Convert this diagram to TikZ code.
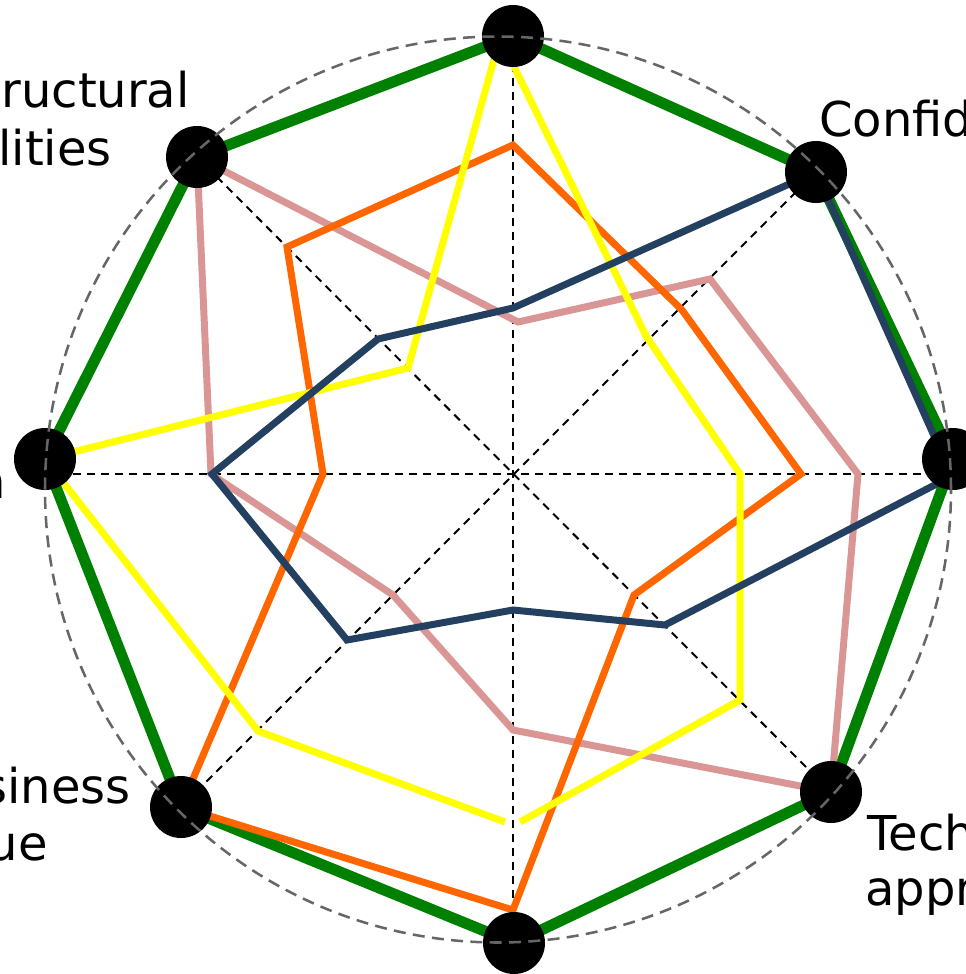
\documentclass[tikz,border=0pt]{standalone}
\usepackage{fontspec}
\setmainfont{DejaVu Sans}
\definecolor{cgreen}{RGB}{0,128,0}
\definecolor{cnavy}{RGB}{36,64,96}
\definecolor{cpink}{RGB}{217,150,148}
\definecolor{corange}{RGB}{255,102,0}
\definecolor{cyellow}{RGB}{255,255,0}
\definecolor{cring}{RGB}{102,102,102}
\begin{document}
\begin{tikzpicture}[x=0.75pt,y=-0.75pt,
  axisline/.style={black, line width=1.5pt, dash pattern=on 6pt off 4.5pt},
  ring/.style={cring, line width=1.9pt, dash pattern=on 9pt off 5.5pt},
  series/.style={line width=5.25pt, line join=miter},
  thick series/.style={line width=8.25pt, line join=miter},
  dot/.style={circle, fill=black, draw=none, minimum size=46.5pt, inner sep=0pt},
  lbl/.style={inner sep=0pt, font=\fontsize{36}{43}\selectfont}]
\useasboundingbox (0,0) rectangle (966,974);
% node positions
\coordinate (cN)  at (513,36);
\coordinate (cNE) at (816,172);
\coordinate (cE)  at (953,459);
\coordinate (cSE) at (831,792);
\coordinate (cS)  at (514,943);
\coordinate (cSW) at (181,807);
\coordinate (cW)  at (45,459);
\coordinate (cNW) at (197,157);
\coordinate (ctr) at (498,489.5);
% axes
\coordinate (aN) at (513,36);
\coordinate (aS) at (513,943);
\coordinate (aW) at (45,474);
\coordinate (aE) at (953,474);
\draw[axisline] (aN) -- (aS);
\draw[axisline] (aW) -- (aE);
\draw[axisline] (cNW) -- (cSE);
\draw[axisline] (cNE) -- (cSW);
% green
\draw[thick series, cgreen] (cN) -- (cNE) -- (cE) -- (cSE) -- (cS) -- (cSW) -- (cW) -- (cNW) -- cycle;
% pink
\coordinate (p1) at (518,322);
\coordinate (p2) at (710,279);
\coordinate (p3) at (858,474);
\coordinate (p4) at (513,730);
\coordinate (p5) at (393,595);
\coordinate (p6) at (211,474);
\draw[series, cpink] (cNW) -- (p1) -- (p2) -- (p3) -- (cSE) -- (p4) -- (p5) -- (p6) -- cycle;
% orange
\coordinate (o1) at (513,145);
\coordinate (o2) at (287,247);
\coordinate (o3) at (323,474);
\coordinate (o4) at (513,910);
\coordinate (o5) at (634,595);
\coordinate (o6) at (801,474);
\coordinate (o7) at (682,310);
\draw[series, corange] (o1) -- (o2) -- (o3) -- (cSW) -- (o4) -- (o5) -- (o6) -- (o7) -- cycle;
% yellow
\coordinate (y1) at (505,822);
\coordinate (y2) at (258,731);
\coordinate (y3) at (408,368);
\coordinate (y4) at (500,38);
\coordinate (y5) at (646,336);
\coordinate (y6) at (740,474);
\coordinate (y7) at (740,700);
\coordinate (y8) at (520,822);
\draw[series, cyellow] (y1) -- (y2) -- (cW) -- (y3) -- (y4) -- (y5) -- (y6) -- (y7) -- (y8);
% navy
\coordinate (n1) at (952,476);
\coordinate (n2) at (665,625);
\coordinate (n3) at (513,610);
\coordinate (n4) at (347,640);
\coordinate (n5) at (212,474);
\coordinate (n6) at (378,339);
\coordinate (n7) at (513,308);
\draw[series, cnavy] (cNE) -- (n1) -- (n2) -- (n3) -- (n4) -- (n5) -- (n6) -- (n7) -- cycle;
% nodes
\node[dot] (N)  at (cN)  {};
\node[dot] (NE) at (cNE) {};
\node[dot] (E)  at (cE)  {};
\node[dot] (SE) at (cSE) {};
\node[dot] (S)  at (cS)  {};
\node[dot] (SW) at (cSW) {};
\node[dot] (W)  at (cW)  {};
\node[dot] (NW) at (cNW) {};
% outer dashed ring
\draw[ring] (ctr) circle [radius=339.75pt];
% labels
\node[lbl, anchor=base east] (lNWa) at (190,108) {tructural};
\node[lbl, anchor=base east] (lNWb) at (112,165) {lities};
\node[lbl, anchor=base west] (lNE) at (819,137) {Confid};
\node[lbl, anchor=base west] (lSEa) at (867,850) {Tech};
\node[lbl, anchor=base west] (lSEb) at (865,905) {appr};
\node[lbl, anchor=base east] (lSWa) at (131,803) {siness};
\node[lbl, anchor=base east] (lSWb) at (48,860) {ue};
\node[lbl, anchor=base east] (lW) at (6,498) {n};
\end{tikzpicture}
\end{document}
